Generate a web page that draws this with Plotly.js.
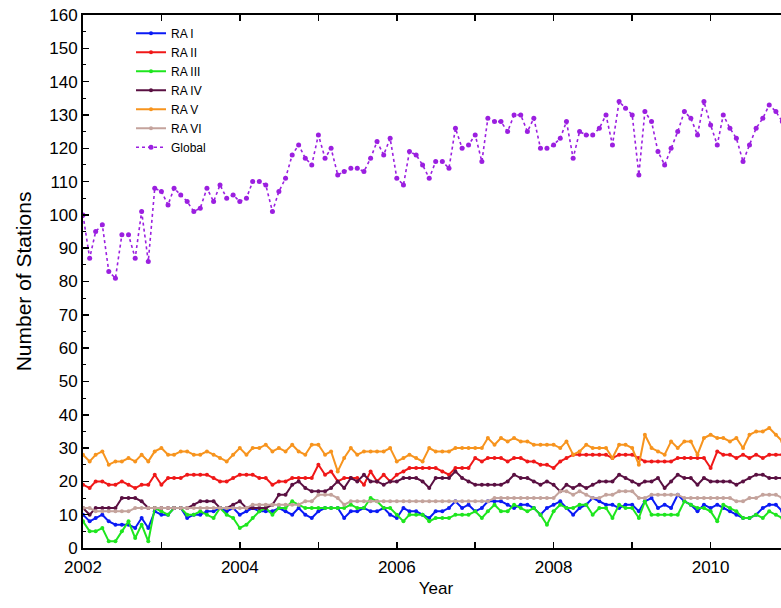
<!DOCTYPE html>
<html>
<head>
<meta charset="utf-8">
<script src="https://cdn.plot.ly/plotly-3.0.1.min.js"></script>
<style>
html,body{margin:0;padding:0;overflow:hidden;background:#fff;}
#chart{width:800px;height:608px;}
</style>
</head>
<body>
<div id="chart"></div>
<script>
// Monthly values, Jan 2002 .. Dec 2010
var seriesNames = ["RA I", "RA II", "RA III", "RA IV", "RA V", "RA VI", "Global"];

var raI = [10,8,9,10,8,7,7,7,6,9,6,11,10,10,12,12,9,10,10,11,11,12,11,12,10,11,12,
  11,11,11,12,11,10,12,10,9,11,12,12,12,9,11,11,12,11,11,12,10,9,12,11,11,
  10,9,11,11,12,14,12,13,11,12,14,14,14,13,12,13,13,12,10,12,13,14,12,10,12,13,15,14,13,13,12,13,13,11,14,15,12,13,12,16,14,13,11,13,12,13,12,11,10,9,9,10,12,13,13,11];

var raII = [19,18,20,20,19,19,20,19,18,19,19,22,19,21,21,21,22,22,22,22,21,20,20,21,22,22,22,
  21,21,19,20,20,21,21,21,21,25,22,23,20,21,21,21,19,23,20,22,20,22,23,24,24,
  24,24,24,23,22,24,24,24,27,26,27,27,27,26,27,27,26,26,25,25,24,26,27,28,28,28,28,28,28,27,28,28,28,27,26,26,26,26,26,27,27,27,27,27,24,29,28,28,27,28,27,28,27,28,28,28];

var raIII = [8,5,5,6,2,2,5,8,3,7,2,12,11,10,12,12,10,10,11,10,9,12,10,9,6,7,9,11,12,10,12,12,14,13,12,12,12,12,12,12,12,13,12,12,15,14,12,12,10,8,10,10,
  10,8,9,9,9,10,10,10,11,9,11,13,11,11,13,12,11,12,10,7,11,13,12,12,13,13,10,12,12,9,13,12,12,9,14,10,10,10,10,10,14,13,12,12,11,8,13,12,11,9,9,10,9,11,10,9];

var raIV = [12,10,12,12,12,12,15,15,15,14,12,12,12,12,12,12,12,13,14,14,14,12,12,13,14,12,12,12,12,13,
  16,16,19,20,18,17,17,17,18,20,18,21,20,22,20,20,19,20,20,21,21,21,
  20,18,21,21,21,23,21,20,19,19,19,19,19,20,22,21,21,20,19,20,19,17,19,18,19,18,19,20,20,20,22,21,20,19,20,20,21,18,20,22,21,21,19,21,20,20,20,20,19,20,21,22,22,21,21,21];

var raV = [28,26,28,29,25,26,26,27,26,28,26,29,30,28,28,29,29,28,28,29,28,27,26,28,30,28,30,
  30,31,29,30,29,31,29,28,31,31,28,29,23,27,30,28,29,29,29,29,30,26,27,28,27,
  26,30,29,29,29,30,30,30,30,30,33,31,33,32,33,32,32,31,31,31,31,30,32,28,29,31,30,30,30,27,31,31,30,25,34,30,29,28,32,30,32,32,28,33,34,33,33,32,33,30,34,35,35,36,34,32];

var raVI = [12,12,11,11,11,11,11,11,
  12,12,12,12,12,12,12,12,12,12,12,12,12,12,12,12,12,12,
  13,13,13,13,13,13,13,13,14,14,16,16,16,15,13,
  14,14,14,14,14,14,14,14,14,14,14,
  14,14,14,14,14,14,14,14,14,14,14,
  15,15,15,15,15,15,15,15,15,15,
  17,17,16,17,16,15,15,16,16,17,17,17,15,15,16,16,16,16,16,
  15,15,15,15,15,15,15,15,14,14,15,15,16,16,16,15];

var globalStations = [100,87,95,97,83,81,94,94,87,101,86,108,107,103,108,106,104,101,102,108,
  104,109,105,106,104,105,110,110,109,101,107,111,118,121,117,115,124,117,120,112,
  113,114,114,113,117,122,118,123,111,109,119,118,115,111,116,116,114,126,120,121,
  124,116,129,128,128,125,130,130,125,129,120,120,121,123,128,117,125,124,124,126,
  130,121,134,132,130,112,131,128,119,115,120,125,131,129,124,134,127,121,130,126,
  123,116,121,126,129,133,131,128];

var startYear = 2002;
var months = [];
for (var k = 0; k < globalStations.length; k++) {
  var y = startYear + Math.floor(k / 12);
  var m = (k % 12) + 1;
  months.push(y + "-" + (m < 10 ? "0" + m : m) + "-01");
}

var xTickVals = ["2002-01-01","2004-01-01","2006-01-01","2008-01-01","2010-01-01"];
var xTickText = ["2002","2004","2006","2008","2010"];

var colors = ["#0a1af5", "#f01818", "#1ee61e", "#5a1042", "#f7941e", "#c4a39c", "#9b1fe0"];
var allData = [raI, raII, raIII, raIV, raV, raVI, globalStations];

var traces = allData.map(function(vals, idx) {
  var isGlobal = idx === 6;
  return {
    x: months,
    y: vals,
    name: seriesNames[idx],
    type: "scatter",
    mode: "lines+markers",
    line: {color: colors[idx], width: isGlobal ? 1.6 : 2, dash: isGlobal ? "dot" : "solid"},
    marker: {color: colors[idx], size: isGlobal ? 5 : 4}
  };
});

var layout = {
  width: 800,
  height: 608,
  margin: {l: 83, r: 11, t: 15, b: 60},
  paper_bgcolor: "#ffffff",
  plot_bgcolor: "#ffffff",
  font: {family: "Liberation Sans, Arial, sans-serif", size: 17, color: "#000"},
  showlegend: true,
  legend: {
    x: 0.068, y: 0.993, xanchor: "left", yanchor: "top",
    bgcolor: "rgba(0,0,0,0)",
    font: {size: 12, color: "#000"},
    tracegroupgap: 0,
    itemwidth: 30
  },
  xaxis: {
    type: "date",
    range: ["2002-01-01", "2011-01-01"],
    tickvals: xTickVals,
    ticktext: xTickText,
    ticks: "inside",
    ticklen: 6,
    tickwidth: 1.5,
    tickcolor: "#000",
    ticklabelstandoff: 3,
    minor: {dtick: "M12", ticks: "inside", ticklen: 6, tickwidth: 1.5, tickcolor: "#000"},
    showline: true,
    linewidth: 2,
    linecolor: "#000",
    mirror: "ticks",
    showgrid: false,
    zeroline: false,
    tickfont: {size: 17},
    title: {text: "Year", font: {size: 17}, standoff: 6}
  },
  yaxis: {
    range: [0, 160],
    dtick: 10,
    ticks: "inside",
    ticklen: 6,
    tickwidth: 1.5,
    tickcolor: "#000",
    minor: {dtick: 5, ticks: "inside", ticklen: 3, tickwidth: 1, tickcolor: "#000"},
    showline: true,
    linewidth: 2,
    linecolor: "#000",
    mirror: "ticks",
    showgrid: false,
    zeroline: false,
    tickfont: {size: 17},
    title: {text: "Number of Stations", font: {size: 21}, standoff: 12}
  }
};

Plotly.newPlot("chart", traces, layout, {displayModeBar: false, staticPlot: true});
</script>
</body>
</html>
